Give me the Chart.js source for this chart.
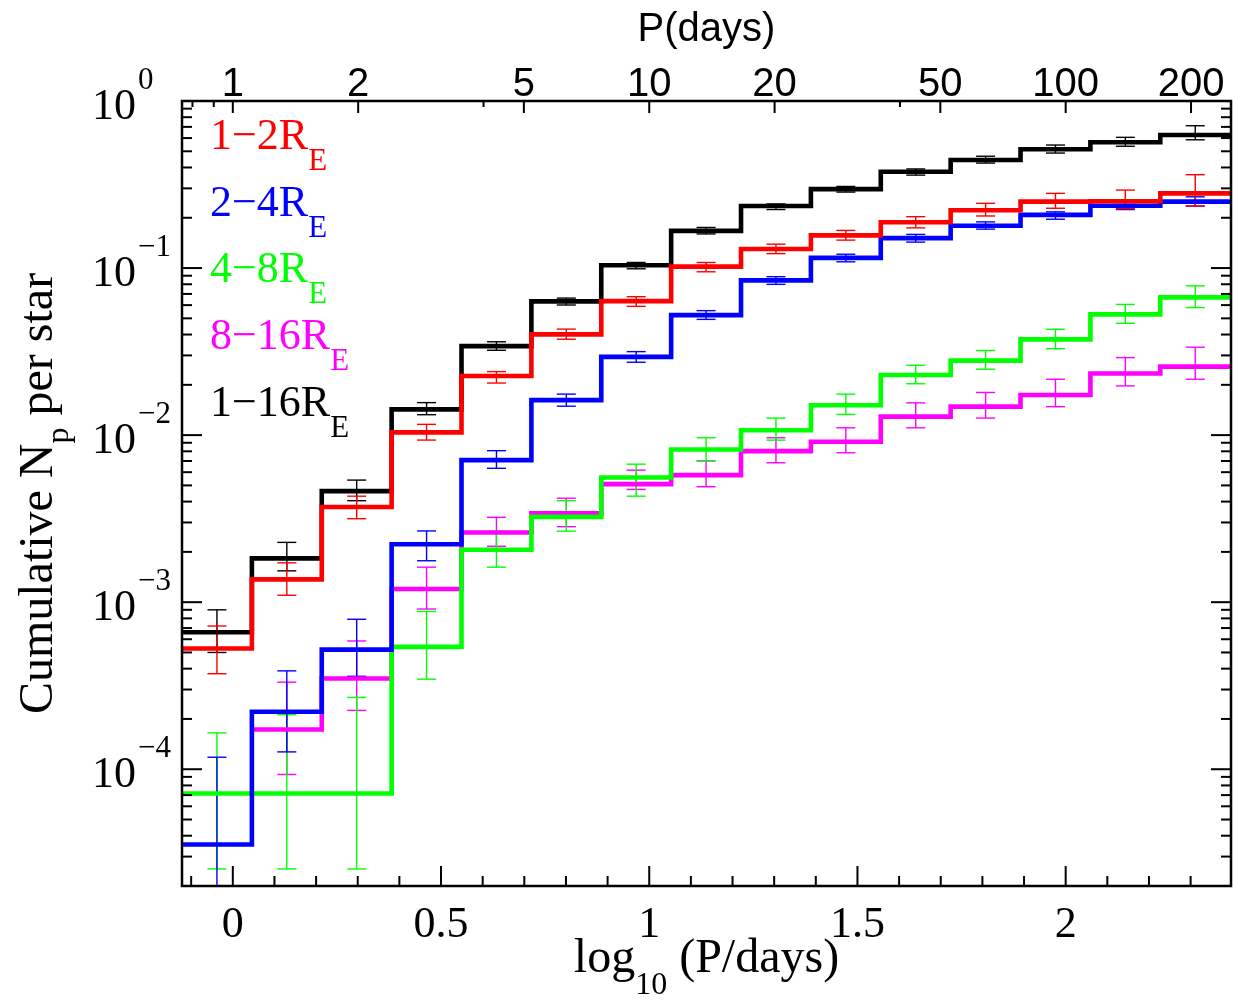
<!DOCTYPE html>
<html>
<head>
<meta charset="utf-8">
<script src="https://cdn.jsdelivr.net/npm/chart.js@4.4.1/dist/chart.umd.min.js"></script>
<style>
html,body{margin:0;padding:0;background:#fff;}
#wrap{width:1235px;height:1004px;position:relative;}
</style>
</head>
<body>
<div id="wrap"><canvas id="c"></canvas></div>
<script>
// ---------- data ----------
const binEdges = [-0.122, 0.0458, 0.2136, 0.3814, 0.5492, 0.717, 0.8848, 1.0526, 1.2204, 1.3882, 1.556, 1.7238, 1.8916, 2.0594, 2.2272, 2.395];

const legendLabels = ['1\u22122', '2\u22124', '4\u22128', '8\u221216', '1\u221216'];

const red   = [5.28e-4, 1.37e-3, 3.71e-3, 0.01038, 0.0226, 0.0401, 0.0634, 0.102, 0.130, 0.157, 0.188, 0.222, 0.250, 0.251, 0.280];
const redLo = [3.73e-4, 1.10e-3, 3.16e-3, 9.34e-3, 0.0205, 0.0375, 0.0590, 0.0950, 0.122, 0.147, 0.174, 0.205, 0.228, 0.227, 0.235];
const redHi = [7.2e-4, 1.72e-3, 4.31e-3, 0.0116, 0.0240, 0.0431, 0.0674, 0.108, 0.139, 0.168, 0.203, 0.244, 0.280, 0.293, 0.362];

const blue   = [3.54e-5, 2.21e-4, 5.2e-4, 2.22e-3, 7.08e-3, 0.0162, 0.0294, 0.0523, 0.0844, 0.115, 0.151, 0.179, 0.208, 0.236, 0.250];
const blueLo = [5e-6, 1.27e-4, 3.6e-4, 1.77e-3, 6.33e-3, 0.0149, 0.0273, 0.0493, 0.0799, 0.109, 0.143, 0.171, 0.196, 0.224, 0.235];
const blueHi = [1.18e-4, 3.88e-4, 7.9e-4, 2.67e-3, 8.07e-3, 0.0176, 0.0316, 0.0556, 0.0888, 0.121, 0.159, 0.189, 0.217, 0.247, 0.267];

const green   = [7.15e-5, 7.15e-5, 7.15e-5, 5.4e-4, 2.06e-3, 3.24e-3, 5.58e-3, 8.2e-3, 0.0107, 0.0151, 0.0229, 0.0279, 0.0374, 0.0528, 0.0668];
const greenLo = [2.53e-5, 2.53e-5, 2.53e-5, 3.46e-4, 1.62e-3, 2.66e-3, 4.31e-3, 7.01e-3, 9.33e-3, 0.0133, 0.0203, 0.0248, 0.0329, 0.0467, 0.0580];
const greenHi = [1.65e-4, 2.12e-4, 2.69e-4, 8.8e-4, 2.66e-3, 4.05e-3, 6.70e-3, 9.64e-3, 0.01265, 0.0176, 0.0262, 0.0321, 0.0430, 0.0606, 0.0783];

const magenta   = [null, 1.73e-4, 3.49e-4, 1.20e-3, 2.61e-3, 3.40e-3, 5.09e-3, 5.76e-3, 8.02e-3, 9.12e-3, 0.0129, 0.0148, 0.0174, 0.0234, 0.0257];
const magentaLo = [null, 9.3e-5, 2.25e-4, 9.1e-4, 2.16e-3, 2.83e-3, 4.73e-3, 4.91e-3, 6.83e-3, 7.84e-3, 0.01106, 0.01265, 0.0148, 0.0197, 0.0216];
const magentaHi = [null, 3.32e-4, 5.86e-4, 1.62e-3, 3.22e-3, 4.19e-3, 6.17e-3, 7.01e-3, 9.64e-3, 0.01106, 0.0156, 0.0180, 0.0216, 0.0291, 0.0336];

const black   = [6.6e-4, 1.83e-3, 4.62e-3, 0.01425, 0.0341, 0.0632, 0.104, 0.167, 0.235, 0.297, 0.377, 0.443, 0.514, 0.566, 0.626];
const blackLo = [5.0e-4, 1.54e-3, 4.05e-3, 0.01325, 0.0322, 0.0601, 0.0990, 0.160, 0.224, 0.285, 0.360, 0.425, 0.488, 0.536, 0.586];
const blackHi = [9.0e-4, 2.28e-3, 5.38e-3, 0.01565, 0.0362, 0.0661, 0.108, 0.175, 0.242, 0.308, 0.392, 0.467, 0.545, 0.606, 0.711];

const bottomTickLabels = [0, 0.5, 1, 1.5, 2];
const topTickPeriods = [1, 2, 5, 10, 20, 50, 100, 200];
const topMinorPeriods = [0.8, 0.9, 4, 40];
const yDecades = [0, -1, -2, -3, -4];
const xRange = [-0.122, 2.397];
const yRange = [2e-5, 1];

// ---------- styles ----------
const SERIF = "'Liberation Serif','Times New Roman',serif";
const SANS = "'Liberation Sans',Arial,sans-serif";

const series = [
  {v: red, lo: redLo, hi: redHi, color: '#ff0000', label: legendLabels[0]},
  {v: blue, lo: blueLo, hi: blueHi, color: '#0000ff', label: legendLabels[1]},
  {v: green, lo: greenLo, hi: greenHi, color: '#00ff00', label: legendLabels[2]},
  {v: magenta, lo: magentaLo, hi: magentaHi, color: '#ff00ff', label: legendLabels[3]},
  {v: black, lo: blackLo, hi: blackHi, color: '#000000', label: legendLabels[4]}
];

// value v[i] is held over [binEdges[i], binEdges[i+1]]
function stepData(v) {
  const d = v.map((y, i) => ({x: binEdges[i], y: y}));
  d.push({x: binEdges[binEdges.length - 1], y: v[v.length - 1]});
  return d;
}
function center(i) { return (binEdges[i] + binEdges[i + 1]) / 2; }
function barData(lo, hi) {
  const d = [];
  lo.forEach((l, i) => {
    if (l == null) return;
    d.push({x: center(i), y: l}, {x: center(i), y: hi[i]}, {x: center(i), y: null});
  });
  return d;
}
function capData(lo, hi) {
  const d = [];
  lo.forEach((l, i) => {
    if (l == null) return;
    d.push({x: center(i), y: l}, {x: center(i), y: hi[i]});
  });
  return d;
}

const datasets = [];
series.forEach((s, k) => {
  datasets.push({
    data: stepData(s.v), stepped: 'before', borderColor: s.color, borderWidth: 4.6,
    pointRadius: 0, fill: false, spanGaps: false, borderJoinStyle: 'miter', borderCapStyle: 'butt',
    order: k
  });
});
series.forEach((s, k) => {
  datasets.push({
    data: barData(s.lo, s.hi), borderColor: s.color, borderWidth: 1.4,
    pointRadius: 0, fill: false, spanGaps: false, order: 10 + k
  });
  datasets.push({
    data: capData(s.lo, s.hi), showLine: false, pointStyle: 'line', pointRadius: 9.5,
    pointBorderWidth: 1.4, pointBorderColor: s.color, pointBackgroundColor: s.color,
    borderColor: s.color, order: 10 + k
  });
});

function drawRuns(ctx, runs, x, y, align) {
  let total = 0;
  runs.forEach(r => { ctx.font = r.size + 'px ' + r.family; r.w = ctx.measureText(r.t).width; total += r.w; });
  let cx = align === 'center' ? x - total / 2 : (align === 'right' ? x - total : x);
  runs.forEach(r => {
    ctx.font = r.size + 'px ' + r.family;
    ctx.fillText(r.t, cx, y + (r.dy || 0));
    cx += r.w;
  });
}

const decor = {
  id: 'decor',
  afterDraw(chart) {
    const ctx = chart.ctx, a = chart.chartArea;
    const xs = chart.scales.x, ys = chart.scales.y;
    ctx.save();
    ctx.strokeStyle = '#000';
    ctx.fillStyle = '#000';
    ctx.lineWidth = 2.5;
    ctx.strokeRect(a.left, a.top, a.right - a.left, a.bottom - a.top);
    ctx.lineWidth = 2;
    const seg = (x1, y1, x2, y2) => { ctx.beginPath(); ctx.moveTo(x1, y1); ctx.lineTo(x2, y2); ctx.stroke(); };
    // bottom ticks
    for (let k = -1; k <= 23; k++) {
      const px = xs.getPixelForValue(k / 10);
      if (px < a.left || px > a.right) continue;
      const L = (k % 5 === 0) ? 20 : 10;
      seg(px, a.bottom, px, a.bottom - L);
    }
    // top ticks
    topTickPeriods.forEach(p => { const px = xs.getPixelForValue(Math.log10(p)); seg(px, a.top, px, a.top + 12); });
    topMinorPeriods.forEach(p => { const px = xs.getPixelForValue(Math.log10(p)); seg(px, a.top, px, a.top + 6); });
    // y ticks
    for (let d = -5; d <= 0; d++) {
      for (let m = 1; m <= 9; m++) {
        const v = m * Math.pow(10, d);
        if (v < yRange[0] * 0.999 || v > yRange[1] * 1.001) continue;
        const py = ys.getPixelForValue(v);
        const L = m === 1 ? 20 : 10;
        seg(a.left, py, a.left + L, py);
        seg(a.right, py, a.right - L, py);
      }
    }
    // y labels
    ctx.textBaseline = 'alphabetic';
    yDecades.forEach(d => {
      const py = ys.getPixelForValue(Math.pow(10, d));
      ctx.textAlign = 'left';
      ctx.font = '44px ' + SERIF;
      ctx.fillText('10', 92, py + 18);
      ctx.font = '31px ' + SERIF;
      ctx.fillText(d === 0 ? '0' : '\u2212' + (-d), 138, py - 12);
    });
    // bottom labels
    ctx.textAlign = 'center';
    ctx.font = '44px ' + SERIF;
    bottomTickLabels.forEach(v => ctx.fillText(String(v), xs.getPixelForValue(v), 937));
    // top labels
    ctx.font = '40px ' + SANS;
    topTickPeriods.forEach(p => ctx.fillText(String(p), xs.getPixelForValue(Math.log10(p)), 96));
    ctx.fillText('P(days)', (a.left + a.right) / 2, 41);
    // x title
    ctx.textAlign = 'left';
    drawRuns(ctx, [
      {t: 'log', size: 48, family: SERIF},
      {t: '10', size: 32, family: SERIF, dy: 22},
      {t: ' (P/days)', size: 48, family: SERIF}
    ], (a.left + a.right) / 2, 972, 'center');
    // y title
    ctx.save();
    ctx.translate(52, (a.top + a.bottom) / 2);
    ctx.rotate(-Math.PI / 2);
    drawRuns(ctx, [
      {t: 'Cumulative N', size: 48, family: SERIF},
      {t: 'p', size: 32, family: SERIF, dy: 16},
      {t: ' per star', size: 48, family: SERIF}
    ], 0, 0, 'center');
    ctx.restore();
    // legend
    series.forEach((s, k) => {
      ctx.fillStyle = s.color;
      const by = a.top + 48 + k * 66.7;
      drawRuns(ctx, [
        {t: s.label + 'R', size: 44, family: SERIF},
        {t: 'E', size: 31, family: SERIF, dy: 21}
      ], a.left + 28, by, 'left');
    });
    ctx.restore();
  }
};

new Chart(document.getElementById('c'), {
  type: 'line',
  data: {datasets: datasets},
  options: {
    responsive: true,
    maintainAspectRatio: false,
    animation: false,
    events: [],
    layout: {autoPadding: false, padding: {left: 182, right: 4, top: 101, bottom: 118}},
    plugins: {legend: {display: false}, tooltip: {enabled: false}},
    scales: {
      x: {type: 'linear', min: xRange[0], max: xRange[1], display: false},
      y: {type: 'logarithmic', min: yRange[0], max: yRange[1], display: false}
    }
  },
  plugins: [decor]
});
</script>
</body>
</html>
